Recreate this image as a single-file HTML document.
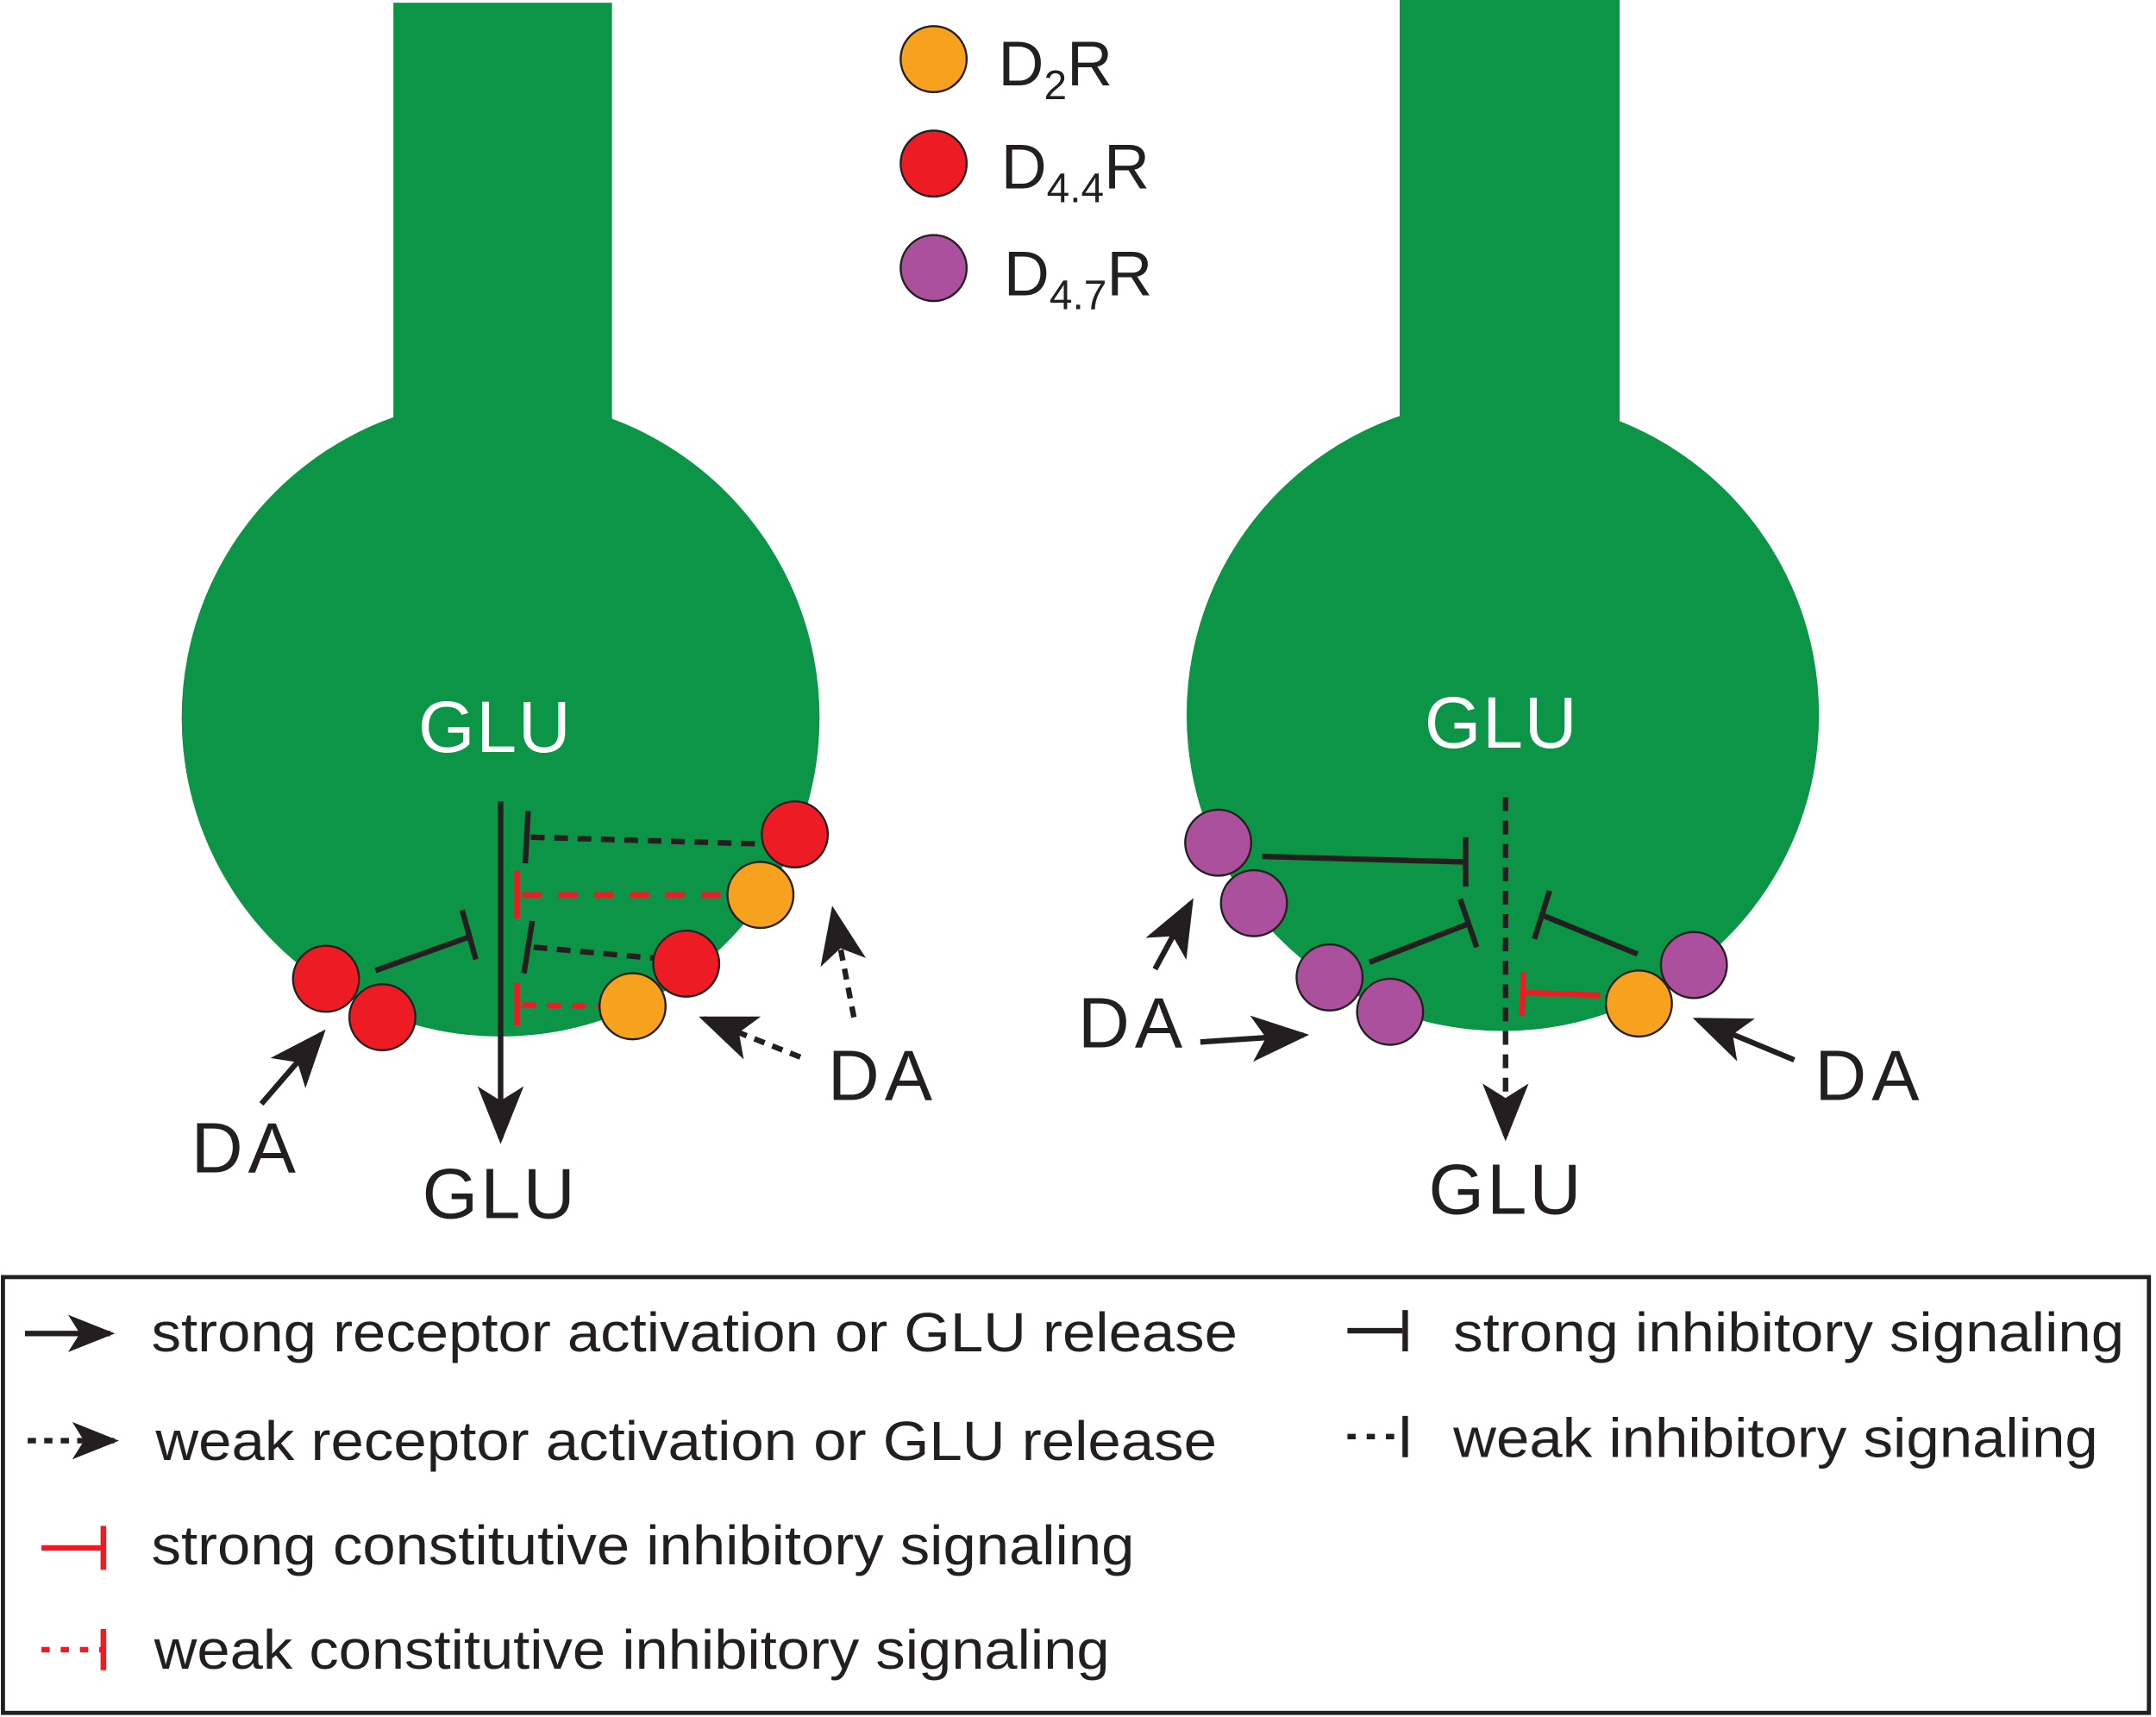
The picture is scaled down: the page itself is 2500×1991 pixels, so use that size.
<!DOCTYPE html>
<html><head><meta charset="utf-8"><style>html,body{margin:0;padding:0;background:#fff}svg{display:block}</style></head>
<body>
<svg width="2500" height="1991" viewBox="0 0 1568 1249" xmlns="http://www.w3.org/2000/svg" font-family="Liberation Sans, sans-serif">
<defs>
<marker id="ah" viewBox="0 0 20 20" refX="18" refY="10" markerWidth="34" markerHeight="34" markerUnits="userSpaceOnUse" orient="auto"><path d="M0,2 L20,10 L0,18 L5,10 Z" fill="#231f20"/></marker>
<marker id="ahb" viewBox="0 0 20 20" refX="18" refY="10" markerWidth="42" markerHeight="42" markerUnits="userSpaceOnUse" orient="auto"><path d="M0,2 L20,10 L0,18 L5,10 Z" fill="#231f20"/></marker>
</defs>
<g fill="#0c9447">
<rect x="286" y="2" width="159" height="330"/>
<circle cx="364" cy="522" r="232"/>
<rect x="1018" y="0" width="160" height="330"/>
<circle cx="1093" cy="520" r="230"/>
</g>
<g stroke="#231f20" stroke-width="1.5">
<circle cx="679" cy="43" r="24" fill="#f7a21e"/>
<circle cx="679" cy="119" r="24" fill="#ed1c24"/>
<circle cx="679" cy="195" r="24" fill="#ab509c"/>
</g>
<g font-size="46" fill="#231f20">
<text x="726" y="62">D<tspan font-size="30" dy="10">2</tspan><tspan dy="-10">R</tspan></text>
<text x="728" y="137">D<tspan font-size="30" dy="10">4.4</tspan><tspan dy="-10">R</tspan></text>
<text x="730" y="215">D<tspan font-size="30" dy="10">4.7</tspan><tspan dy="-10">R</tspan></text>
</g>
<g font-size="53" fill="#fff"><text x="304" y="547" textLength="111">GLU</text><text x="1036" y="544" textLength="111">GLU</text></g>
<g font-size="52" fill="#231f20"><text x="307" y="886" textLength="111">GLU</text><text x="1039" y="883" textLength="111">GLU</text>
<text x="139" y="853" textLength="76">DA</text><text x="602" y="800" textLength="76">DA</text><text x="784" y="762" textLength="76">DA</text><text x="1320" y="800" textLength="76">DA</text></g>

<g stroke="#231f20" stroke-width="4" fill="none">
<line x1="364" y1="583" x2="364" y2="828" marker-end="url(#ahb)"/>
<line x1="273" y1="706" x2="340" y2="682"/><line x1="336" y1="662" x2="346" y2="698"/>
<line x1="386" y1="609" x2="556" y2="614" stroke-dasharray="10,7"/><line x1="384" y1="590" x2="382" y2="628"/>
<line x1="388" y1="689" x2="475" y2="697" stroke-dasharray="10,7"/><line x1="387" y1="670" x2="381" y2="708"/>
<line x1="190" y1="803" x2="234" y2="752" marker-end="url(#ahb)"/>
<line x1="582" y1="769" x2="512" y2="741" stroke-dasharray="8,6" marker-end="url(#ahb)"/>
<line x1="621" y1="740" x2="606" y2="663" stroke-dasharray="8,6" marker-end="url(#ahb)"/>
<line x1="1095" y1="580" x2="1095" y2="826" stroke-dasharray="10,7" marker-end="url(#ahb)"/>
<line x1="918" y1="623" x2="1064" y2="627"/><line x1="1066" y1="609" x2="1066" y2="645"/>
<line x1="996" y1="700" x2="1068" y2="672"/><line x1="1062" y1="654" x2="1074" y2="689"/>
<line x1="1191" y1="694" x2="1120" y2="665"/><line x1="1127" y1="648" x2="1116" y2="683"/>
<line x1="840" y1="705" x2="866" y2="657" marker-end="url(#ahb)"/>
<line x1="873" y1="758" x2="948" y2="753" marker-end="url(#ahb)"/>
<line x1="1305" y1="771" x2="1235" y2="742" marker-end="url(#ahb)"/>
</g>
<g stroke="#ed1c24" stroke-width="4" fill="none">
<line x1="380" y1="651" x2="530" y2="651" stroke-dasharray="14,12"/><line x1="376" y1="633" x2="376" y2="668"/>
<line x1="380" y1="731" x2="438" y2="732" stroke-dasharray="10,8"/><line x1="376" y1="715" x2="376" y2="746"/>
<line x1="1110" y1="722" x2="1164" y2="724"/><line x1="1108" y1="707" x2="1107" y2="739"/>
</g>
<g stroke="#231f20" stroke-width="1.5">
<circle cx="237" cy="712" r="24" fill="#ed1c24"/><circle cx="278" cy="740" r="24" fill="#ed1c24"/>
<circle cx="578" cy="607" r="24" fill="#ed1c24"/><circle cx="553" cy="651" r="24" fill="#f7a21e"/>
<circle cx="499" cy="701" r="24" fill="#ed1c24"/><circle cx="460" cy="732" r="24" fill="#f7a21e"/>
<circle cx="886" cy="613" r="24" fill="#ab509c"/><circle cx="912" cy="657" r="24" fill="#ab509c"/>
<circle cx="967" cy="711" r="24" fill="#ab509c"/><circle cx="1011" cy="736" r="24" fill="#ab509c"/>
<circle cx="1232" cy="702" r="24" fill="#ab509c"/><circle cx="1192" cy="730" r="24" fill="#f7a21e"/>
</g>

<rect x="2" y="929" width="1561" height="317" fill="none" stroke="#231f20" stroke-width="3"/>
<g font-size="40" fill="#231f20">
<text x="110" y="983" textLength="790" lengthAdjust="spacingAndGlyphs">strong receptor activation or GLU release</text>
<text x="113" y="1062" textLength="772" lengthAdjust="spacingAndGlyphs">weak receptor activation or GLU release</text>
<text x="110" y="1138" textLength="715" lengthAdjust="spacingAndGlyphs">strong constitutive inhibitory signaling</text>
<text x="112" y="1214" textLength="695" lengthAdjust="spacingAndGlyphs">weak constitutive inhibitory signaling</text>
<text x="1057" y="983" textLength="488" lengthAdjust="spacingAndGlyphs">strong inhibitory signaling</text>
<text x="1057" y="1060" textLength="469" lengthAdjust="spacingAndGlyphs">weak inhibitory signaling</text>
</g>
<g stroke="#231f20" stroke-width="4" fill="none">
<line x1="18" y1="970" x2="80" y2="970" marker-end="url(#ah)"/>
<line x1="20" y1="1048" x2="83" y2="1048" stroke-dasharray="6,6" marker-end="url(#ah)"/>
<line x1="980" y1="968" x2="1020" y2="968"/><line x1="1022" y1="953" x2="1022" y2="983"/>
<line x1="980" y1="1045" x2="1020" y2="1045" stroke-dasharray="6,8"/><line x1="1022" y1="1030" x2="1022" y2="1060"/>
</g>
<g stroke="#ed1c24" stroke-width="4" fill="none">
<line x1="30" y1="1126" x2="74" y2="1126"/><line x1="75" y1="1110" x2="75" y2="1142"/>
<line x1="30" y1="1200" x2="74" y2="1200" stroke-dasharray="6,8"/><line x1="75" y1="1185" x2="75" y2="1215"/>
</g>
</svg>
</body></html>
